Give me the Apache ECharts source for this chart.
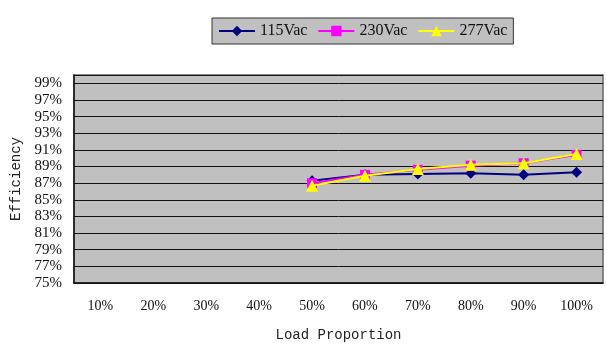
<!DOCTYPE html>
<html><head><meta charset="utf-8">
<script src="https://cdn.jsdelivr.net/npm/echarts@6/dist/echarts.min.js"></script>
<style>html,body{margin:0;padding:0;background:#fff}#c{width:607px;height:347px}</style>
</head><body><div id="c"></div>
<script>
const categories = ['10%','20%','30%','40%','50%','60%','70%','80%','90%','100%'];
const s115 = [null,null,null,null,87.3,88.0,88.1,88.2,88.0,88.3];
const s230 = [null,null,null,null,87.0,88.0,88.6,89.1,89.4,90.4];
const s277 = [null,null,null,null,86.7,87.9,88.7,89.2,89.4,90.5];
const yMin = 75, yMax = 100, yStep = 2;

const chart = echarts.init(document.getElementById('c'));
chart.setOption({
  animation:false,
  backgroundColor:'#ffffff',
  legend:{
    left:212, top:18, padding:[5,6], itemGap:10, itemWidth:36, itemHeight:13,
    backgroundColor:'#c0c0c0', borderColor:'#333', borderWidth:1,
    textStyle:{fontFamily:'Liberation Serif', fontSize:16, color:'#111'},
    data:['115Vac','230Vac','277Vac']
  },
  grid:{left:74, right:4, top:75, bottom:61, show:true, backgroundColor:'#c0c0c0', borderColor:'#666', borderWidth:1.5},
  xAxis:{
    type:'category', data:categories, boundaryGap:true,
    axisLine:{lineStyle:{color:'#111', width:1.5}},
    axisTick:{inside:true, length:6, lineStyle:{color:'#111'}},
    axisLabel:{fontFamily:'Liberation Serif', fontSize:14, color:'#111', margin:16},
    name:'Load Proportion', nameLocation:'middle', nameGap:45,
    nameTextStyle:{fontFamily:'Liberation Mono', fontSize:14, color:'#222'}
  },
  yAxis:{
    type:'value', min:yMin, max:yMax, interval:yStep,
    axisLine:{show:true, lineStyle:{color:'#111', width:1.5}},
    axisTick:{show:false},
    splitLine:{lineStyle:{color:'#111', width:1}},
    axisLabel:{fontFamily:'Liberation Serif', fontSize:15, color:'#111', margin:12, padding:[4,0,0,0],
      formatter:v=> v===yMax ? '' : v+'%'},
    name:'Efficiency', nameLocation:'middle', nameGap:40, nameRotate:90,
    nameTextStyle:{fontFamily:'Liberation Mono', fontSize:14, color:'#222'}
  },
  series:[
    {name:'115Vac', type:'line', data:s115, symbol:'diamond', symbolSize:11,
     itemStyle:{color:'#000080'}, lineStyle:{color:'#000080', width:2}, z:2},
    {name:'230Vac', type:'line', data:s230, symbol:'rect', symbolSize:10,
     itemStyle:{color:'#ff00ff'}, lineStyle:{color:'#ff00ff', width:2}, z:3},
    {name:'277Vac', type:'line', data:s277, symbol:'triangle', symbolSize:12,
     itemStyle:{color:'#ffff00'}, lineStyle:{color:'#ffff00', width:2}, z:4}
  ]
});
</script></body></html>
